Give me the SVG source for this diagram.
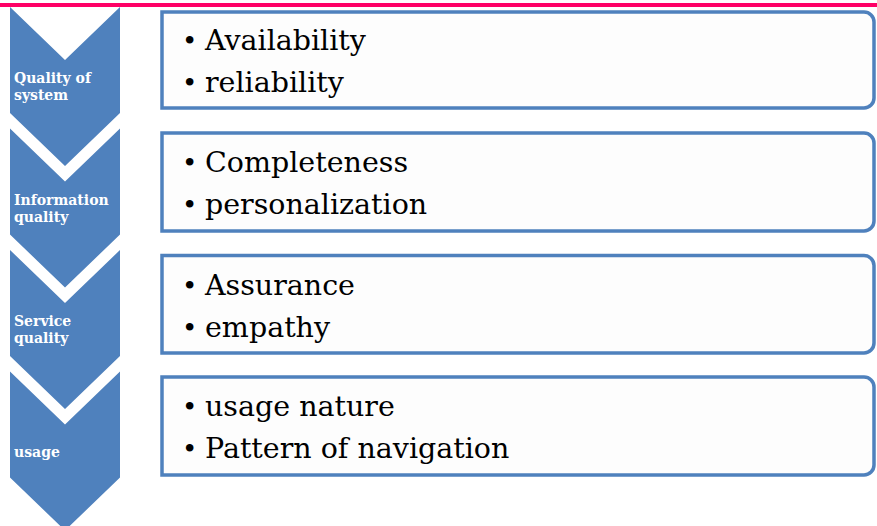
<svg xmlns="http://www.w3.org/2000/svg" width="877" height="526" viewBox="0 0 877 526">
<style>
.chev{fill:#4F81BD;stroke:none}
.box{fill:#FDFDFD;stroke:#4F81BD;stroke-width:3.5}
.lbl{font-family:"DejaVu Serif","Liberation Serif",serif;font-weight:bold;font-size:14px;fill:#FFFFFF}
.item{font-family:"DejaVu Serif","Liberation Serif",serif;font-size:28.5px;fill:#000000}
.bul{font-size:26px}
</style>
<rect x="0" y="0" width="877" height="526" fill="#FFFFFF"/>
<rect x="0" y="3" width="877" height="4" fill="#FF0066"/>
<g id="node-quality-of-system">
<polygon class="chev" points="10,7 65,60 120,7 120,113 65,166 10,113"/>
<text class="lbl" x="14" y="83">Quality of</text>
<text class="lbl" x="14" y="100">system</text>
</g>
<g id="node-information-quality">
<polygon class="chev" points="10,128.5 65,181.5 120,128.5 120,234.5 65,287.5 10,234.5"/>
<text class="lbl" x="14" y="205">Information</text>
<text class="lbl" x="14" y="222">quality</text>
</g>
<g id="node-service-quality">
<polygon class="chev" points="10,250 65,303 120,250 120,356 65,409 10,356"/>
<text class="lbl" x="14" y="326">Service</text>
<text class="lbl" x="14" y="343">quality</text>
</g>
<g id="node-usage">
<polygon class="chev" points="10,371.5 65,424.5 120,371.5 120,477.5 65,530.5 10,477.5"/>
<text class="lbl" x="14" y="457">usage</text>
</g>
<g id="box-1">
<path class="box" d="M162,12 H864 A10,10 0 0 1 874,22 V98 A10,10 0 0 1 864,108 H162 Z"/>
<text class="item" y="50"><tspan class="bul" x="182">•</tspan><tspan x="205">Availability</tspan></text>
<text class="item" y="92"><tspan class="bul" x="182">•</tspan><tspan x="205">reliability</tspan></text>
</g>
<g id="box-2">
<path class="box" d="M162,133 H864 A10,10 0 0 1 874,143 V221 A10,10 0 0 1 864,231 H162 Z"/>
<text class="item" y="172"><tspan class="bul" x="182">•</tspan><tspan x="205">Completeness</tspan></text>
<text class="item" y="214"><tspan class="bul" x="182">•</tspan><tspan x="205">personalization</tspan></text>
</g>
<g id="box-3">
<path class="box" d="M162,255.5 H864 A10,10 0 0 1 874,265.5 V343 A10,10 0 0 1 864,353 H162 Z"/>
<text class="item" y="295"><tspan class="bul" x="182">•</tspan><tspan x="205">Assurance</tspan></text>
<text class="item" y="337"><tspan class="bul" x="182">•</tspan><tspan x="205">empathy</tspan></text>
</g>
<g id="box-4">
<path class="box" d="M162,377 H864 A10,10 0 0 1 874,387 V465 A10,10 0 0 1 864,475 H162 Z"/>
<text class="item" y="416"><tspan class="bul" x="182">•</tspan><tspan x="205">usage nature</tspan></text>
<text class="item" y="458"><tspan class="bul" x="182">•</tspan><tspan x="205">Pattern of navigation</tspan></text>
</g>
<g id="connectors"></g>
</svg>
